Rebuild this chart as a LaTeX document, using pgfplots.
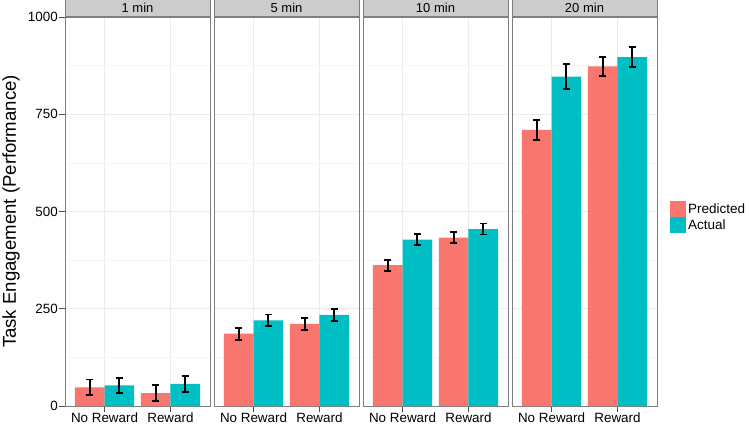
\documentclass[border=0pt]{standalone}
\usepackage{pgfplots}
\pgfplotsset{compat=1.18}
\usepackage{fontspec}
\setmainfont{Liberation Sans}
\definecolor{pred}{HTML}{F8766D}
\definecolor{act}{HTML}{00BFC4}
\definecolor{grey90}{HTML}{EBEBEB}
\definecolor{grey96}{HTML}{F5F5F5}
\definecolor{grey80}{HTML}{CCCCCC}
\definecolor{grey50}{HTML}{7F7F7F}
\definecolor{grey30}{HTML}{4D4D4D}

% x positions: category 1 = No Reward, 2 = Reward; bars dodged by 0.225
\pgfplotstableread{
x y e
0.775 48 20
1.775 33 20
}\pa
\pgfplotstableread{
x y e
1.225 53 20
2.225 57 20
}\aa
\pgfplotstableread{
x y e
0.775 186 15.5
1.775 211 15
}\pb
\pgfplotstableread{
x y e
1.225 220 15
2.225 234 15.5
}\ab
\pgfplotstableread{
x y e
0.775 362 14
1.775 433 13.5
}\pc
\pgfplotstableread{
x y e
1.225 428 15
2.225 455 14
}\ac
\pgfplotstableread{
x y e
0.775 710 25.5
1.775 873 25
}\pd
\pgfplotstableread{
x y e
1.225 847 32
2.225 897 25.5
}\ad

\pgfplotsset{
 panel/.style={
  scale only axis, width=145pt, height=389pt,
  anchor=south west,
  xmin=0.4, xmax=2.6, ymin=0, ymax=1000,
  xtick={1,2}, xticklabels={No Reward, Reward},
  ytick={0,250,500,750,1000}, minor ytick={125,375,625,875},
  grid=both,
  major grid style={color=grey90, line width=1pt},
  minor grid style={color=grey96, line width=0.5pt},
  axis line style={color=grey50, line width=0.8pt},
  tick align=outside, xtick pos=bottom, ytick pos=left,
  major tick length=6pt, minor tick length=0pt,
  tick style={color=grey30, line width=0.8pt},
  ticklabel style={font=\fontsize{13.4}{14}\selectfont, inner sep=1pt},
  /pgf/number format/assume math mode=true,
  /pgf/number format/1000 sep={},
  every axis title shift=0pt,
  title style={at={(0.5,1)}, anchor=south, yshift=0pt, fill=grey80, draw=grey50,
    line width=0.8pt, minimum width=145pt, minimum height=17pt, inner sep=0pt,
    font=\fontsize{13}{14}\selectfont},
 },
 noy/.style={yticklabels={}, ytick style={draw=none}},
 ebar/.style={ybar, bar width=0.45, bar shift=0pt, draw=none,
   error bars/y dir=both, error bars/y explicit,
   error bars/error bar style={black, line width=1.8pt},
   error bars/error mark options={rotate=90, mark size=3.6pt, black, line width=1.8pt}},
 pbar/.style={ebar, fill=pred},
 abar/.style={ebar, fill=act},
}

\begin{document}
\begin{tikzpicture}[x=1pt,y=1pt]
\useasboundingbox (0,0) rectangle (749,429);

\begin{axis}[panel, at={(65pt,23pt)}, title={1 min},
  ylabel={Task Engagement (Performance)},
  ylabel style={at={(axis description cs:-0.372,0.5)}, anchor=center,
    font=\fontsize{18.6}{20}\selectfont}]
\addplot[pbar] table[x=x,y=y,y error=e] {\pa};
\addplot[abar] table[x=x,y=y,y error=e] {\aa};
\end{axis}

\begin{axis}[panel, noy, at={(214pt,23pt)}, title={5 min}]
\addplot[pbar] table[x=x,y=y,y error=e] {\pb};
\addplot[abar] table[x=x,y=y,y error=e] {\ab};
\end{axis}

\begin{axis}[panel, noy, at={(363pt,23pt)}, title={10 min}]
\addplot[pbar] table[x=x,y=y,y error=e] {\pc};
\addplot[abar] table[x=x,y=y,y error=e] {\ac};
\end{axis}

\begin{axis}[panel, noy, at={(512pt,23pt)}, title={20 min},
  legend cell align=left,
  legend style={draw=none, fill=none, at={(axis description cs:1.0897,0.486)},
    anchor=west, inner sep=0pt, row sep=0pt, column sep=2pt,
    font=\fontsize{13.5}{14}\selectfont,
    nodes={inner sep=0pt, minimum height=16pt}},
  legend image code/.code={\fill[#1] (0pt,-8pt) rectangle (16pt,8pt);}]
\addplot[pbar] table[x=x,y=y,y error=e] {\pd};
\addlegendentry{Predicted}
\addplot[abar] table[x=x,y=y,y error=e] {\ad};
\addlegendentry{Actual}
\end{axis}
\end{tikzpicture}
\end{document}
